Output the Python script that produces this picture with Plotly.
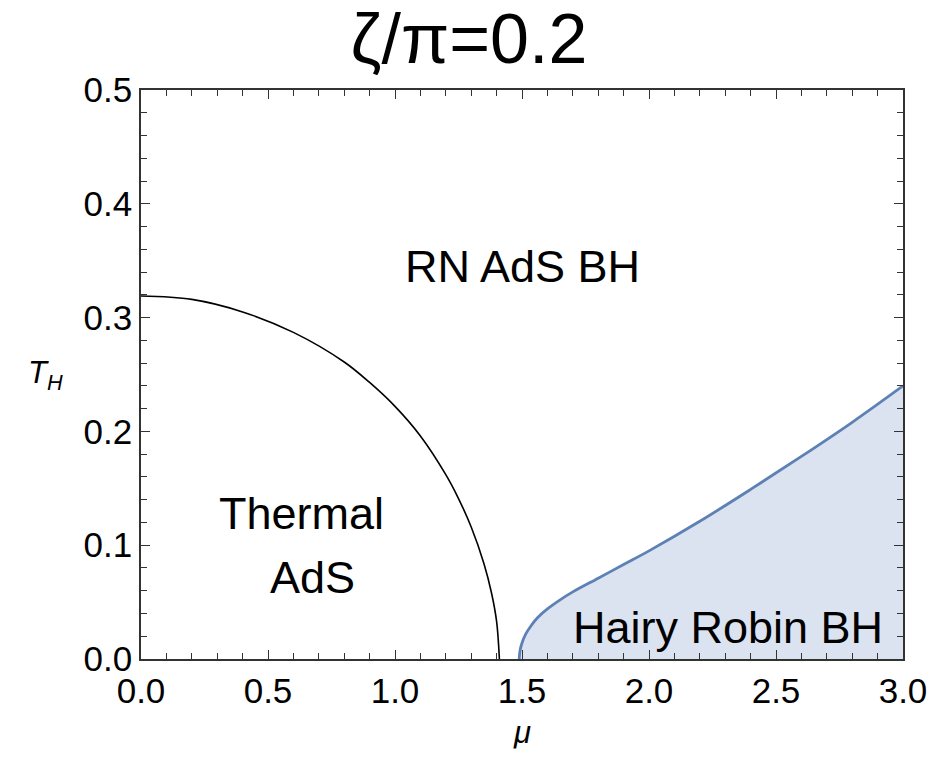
import plotly.graph_objects as go

# Phase boundary between thermal AdS and RN AdS black hole
thermal_mu = [0.0, 0.2, 0.4, 0.6, 0.8, 0.9, 1.0, 1.1, 1.2, 1.25, 1.3, 1.35, 1.38, 1.40, 1.411]
thermal_T = [0.319, 0.316, 0.305, 0.287, 0.261, 0.243, 0.222, 0.196, 0.162, 0.141,
             0.116, 0.084, 0.058, 0.033, 0.0]

# Onset of the hairy Robin black hole branch
hairy_mu = [1.489, 1.492, 1.50, 1.515, 1.535, 1.56, 1.6, 1.65, 1.7, 1.8, 1.9, 2.0,
            2.2, 2.4, 2.6, 2.8, 3.0]
hairy_T = [0.0, 0.007, 0.014, 0.022, 0.029, 0.036, 0.044, 0.052, 0.059, 0.071, 0.083,
           0.095, 0.121, 0.149, 0.178, 0.208, 0.240]

x_ticks = [0.0, 0.5, 1.0, 1.5, 2.0, 2.5, 3.0]
y_ticks = [0.0, 0.1, 0.2, 0.3, 0.4, 0.5]

FONT = "Liberation Sans, Arial, Helvetica, sans-serif"
AXIS_COLOR = "#333333"

fig = go.Figure()

fig.add_trace(go.Scatter(
    x=hairy_mu, y=hairy_T, mode="lines",
    line=dict(color="#5e81b5", width=2.8, shape="spline", smoothing=1.0),
    fill="tozeroy", fillcolor="rgba(190,202,228,0.55)",
    hoverinfo="skip", showlegend=False,
))

fig.add_trace(go.Scatter(
    x=thermal_mu, y=thermal_T, mode="lines",
    line=dict(color="black", width=1.6, shape="spline", smoothing=1.0),
    hoverinfo="skip", showlegend=False,
))

axis_common = dict(
    showgrid=False, zeroline=False,
    showline=True, linecolor=AXIS_COLOR, linewidth=1.6, mirror="allticks",
    ticks="inside", ticklen=9, tickwidth=1.4, tickcolor=AXIS_COLOR,
    tickfont=dict(family=FONT, size=35, color="black"),
)

fig.update_xaxes(
    range=[0, 3], tickvals=x_ticks, ticktext=[f"{v:.1f}" for v in x_ticks],
    minor=dict(ticks="inside", dtick=0.1, ticklen=6, tickwidth=1.2,
               tickcolor=AXIS_COLOR, showgrid=False),
    **axis_common,
)
fig.update_yaxes(
    range=[0, 0.5], tickvals=y_ticks, ticktext=[f"{v:.1f}" for v in y_ticks],
    minor=dict(ticks="inside", dtick=0.02, ticklen=6, tickwidth=1.2,
               tickcolor=AXIS_COLOR, showgrid=False),
    **axis_common,
)

label_font = dict(family=FONT, size=45, color="black")
annotations = [
    dict(x=1.5, y=0.345, text="RN AdS BH", showarrow=False, font=label_font),
    dict(x=0.63, y=0.128, text="Thermal", showarrow=False, font=label_font),
    dict(x=0.675, y=0.072, text="AdS", showarrow=False, font=label_font),
    dict(x=2.31, y=0.028, text="Hairy Robin BH", showarrow=False, font=label_font),
    dict(xref="paper", yref="paper", x=0.5, y=-0.13, yanchor="middle",
         text="<i>μ</i>", showarrow=False,
         font=dict(family=FONT, size=31, color="black")),
    dict(xref="paper", yref="paper", x=-0.125, y=0.5, xanchor="center", yanchor="middle",
         text="<i>T</i><sub><i>H</i></sub>", showarrow=False,
         font=dict(family=FONT, size=31, color="black")),
]

fig.update_layout(
    width=938, height=768,
    margin=dict(l=141, r=35, t=90, b=109),
    paper_bgcolor="white", plot_bgcolor="white",
    title=dict(text="ζ/π=0.2", x=0.5, xref="container", xanchor="center",
               y=0.95, yref="container", yanchor="middle",
               font=dict(family=FONT, size=70, color="black")),
    annotations=annotations,
)

fig.write_html("out.html")
